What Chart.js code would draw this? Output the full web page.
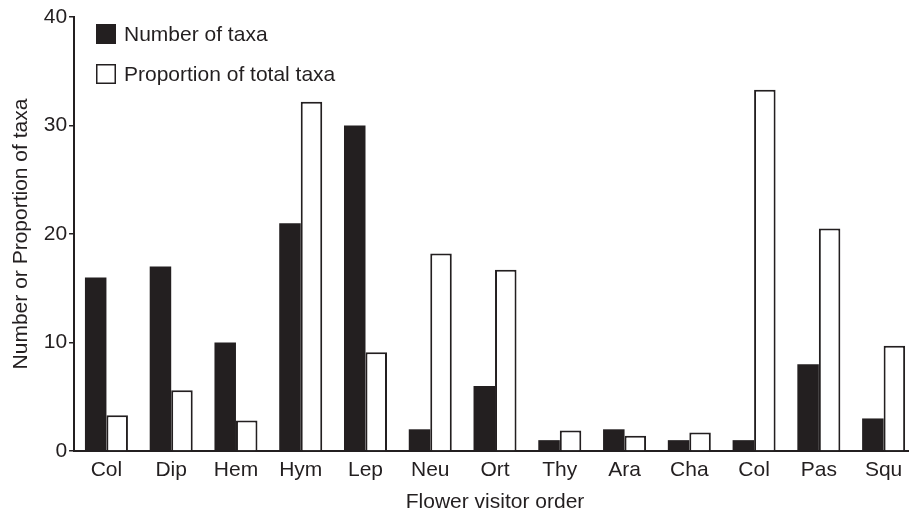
<!DOCTYPE html>
<html>
<head>
<meta charset="utf-8">
<script src="https://cdn.jsdelivr.net/npm/chart.js@4"></script>
<style>
  html, body { margin: 0; padding: 0; background: #fff; overflow: hidden; }
  /* the original figure is cropped on the right, so the canvas runs a little past the window */
  #wrap { width: 909px; height: 511px; overflow: hidden; }
</style>
</head>
<body>
<div id="wrap"><canvas id="graph" width="916" height="511"></canvas></div>
<script>
const categories = ['Col', 'Dip', 'Hem', 'Hym', 'Lep', 'Neu', 'Ort', 'Thy', 'Ara', 'Cha', 'Col', 'Pas', 'Squ'];
const numberOfTaxa = [16, 17, 10, 21, 30, 2, 6, 1, 2, 1, 1, 8, 3];
const proportionOfTaxa = [3.3, 5.6, 2.8, 32.2, 9.1, 18.2, 16.7, 1.9, 1.4, 1.7, 33.3, 20.5, 9.7];
const yTicks = [0, 10, 20, 30, 40];

const ink = '#231f20';
const fontFamily = '"Liberation Sans", Arial, Helvetica, sans-serif';

// legend drawn inside the plot, top left, like the original figure
const insideLegend = {
    id: 'insideLegend',
    afterDraw(chart) {
        const ctx = chart.ctx;
        const rows = [34, 74];
        ctx.save();
        ctx.font = '21px ' + fontFamily;
        ctx.textBaseline = 'middle';
        ctx.textAlign = 'left';
        chart.data.datasets.forEach((ds, i) => {
            const cy = rows[i];
            ctx.fillStyle = ds.backgroundColor;
            ctx.fillRect(96, cy - 10, 20, 20);
            if (ds.borderWidth) {
                ctx.strokeStyle = ink;
                ctx.lineWidth = 1.5;
                ctx.strokeRect(96.75, cy - 9.25, 18.5, 18.5);
            }
            ctx.fillStyle = ink;
            ctx.fillText(ds.label, 124, cy + 1);
        });
        ctx.restore();
    }
};

const config = {
    type: 'bar',
    data: {
        labels: categories,
        datasets: [
            {
                label: 'Number of taxa',
                data: numberOfTaxa,
                backgroundColor: ink,
                borderWidth: 0
            },
            {
                label: 'Proportion of total taxa',
                data: proportionOfTaxa,
                backgroundColor: '#ffffff',
                borderColor: ink,
                borderWidth: 2
            }
        ]
    },
    options: {
        responsive: false,
        animation: false,
        devicePixelRatio: 1,
        layout: { padding: { left: 3, right: 0, top: 17, bottom: 0 } },
        datasets: {
            bar: { categoryPercentage: 0.664, barPercentage: 1.0 }
        },
        scales: {
            x: {
                grid: { display: false, drawTicks: false },
                border: { display: true, color: ink, width: 2 },
                ticks: {
                    color: ink,
                    padding: 7,
                    autoSkip: false,
                    maxRotation: 0,
                    font: { family: fontFamily, size: 21 }
                },
                title: {
                    display: true,
                    text: 'Flower visitor order',
                    color: ink,
                    padding: { top: 4, bottom: 0 },
                    font: { family: fontFamily, size: 21, lineHeight: 0.8 }
                }
            },
            y: {
                min: 0,
                max: 40,
                afterBuildTicks: axis => { axis.ticks = yTicks.map(v => ({ value: v })); },
                grid: {
                    drawOnChartArea: false,
                    drawTicks: true,
                    tickLength: 5,
                    color: ink,
                    lineWidth: 1.5
                },
                border: { display: true, color: ink, width: 2 },
                ticks: {
                    color: ink,
                    padding: 2,
                    font: { family: fontFamily, size: 21 }
                },
                title: {
                    display: true,
                    text: 'Number or Proportion of taxa',
                    color: ink,
                    padding: { top: 6, bottom: 7.5 },
                    font: { family: fontFamily, size: 21 }
                }
            }
        },
        plugins: {
            legend: { display: false },
            tooltip: { enabled: false }
        }
    },
    plugins: [insideLegend]
};

const myChart = new Chart(document.getElementById('graph'), config);
</script>
</body>
</html>
